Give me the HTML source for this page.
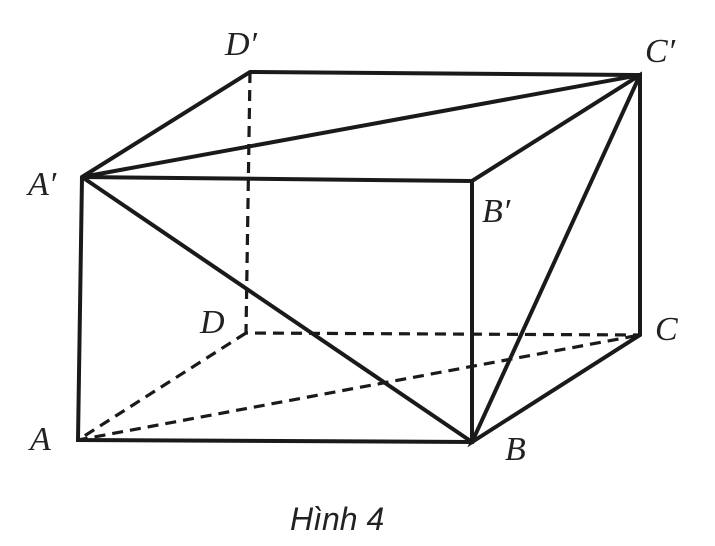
<!DOCTYPE html><html><head><style>body{margin:0;background:#fff}svg{display:block}text{font-family:"Liberation Serif",serif;font-style:italic;font-size:34px;fill:#222}</style></head><body>
<svg width="715" height="546" xmlns="http://www.w3.org/2000/svg">
<g stroke="#1a1a1a" stroke-width="4" fill="none" stroke-linecap="round">
<path d="M82 177L250 72L640 75L82 177L472 181L640 75L640 335L472 442L640 75M82 177L472 442M82 177L78 440L472 442L472 181"/>
</g>
<g stroke="#1a1a1a" stroke-width="3.2" fill="none" stroke-dasharray="11 7">
<path d="M250 72L246 333L640 335M246 333L78 440L640 335"/>
</g>
<text x="225" y="55">D′</text>
<text x="645" y="62">C′</text>
<text x="28" y="195">A′</text>
<text x="482" y="222">B′</text>
<text x="200" y="333">D</text>
<text x="655" y="340">C</text>
<text x="30" y="450">A</text>
<text x="505" y="460">B</text>
<text x="290" y="530" style="font-family:'Liberation Sans',sans-serif;font-size:32px">Hình 4</text>
</svg></body></html>
